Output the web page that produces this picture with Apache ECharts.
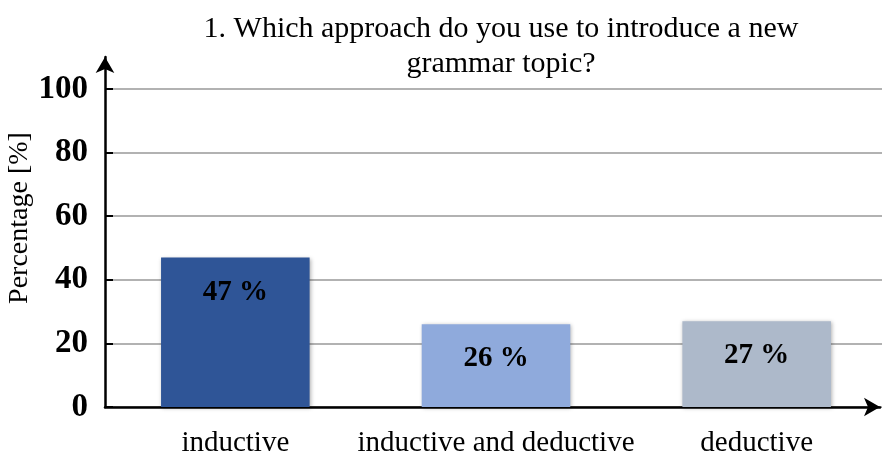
<!DOCTYPE html>
<html>
<head>
<meta charset="utf-8">
<script src="https://cdn.jsdelivr.net/npm/echarts@6/dist/echarts.min.js"></script>
<style>
  html, body { margin: 0; padding: 0; background: #fff; }
  #chart { width: 882px; height: 452px; }
</style>
</head>
<body>
<div id="chart"></div>
<script>
  // data
  var categories = ['inductive', 'inductive and deductive', 'deductive']
  var values = [47, 26, 27]
  var barColors = ['#2F5597', '#8FAADC', '#ADB9CA']

  var serif = '"Liberation Serif", "DejaVu Serif", serif'

  var arrowLine = {
    show: true,
    symbol: ['none', 'arrow'],
    symbolSize: [14, 16],
    lineStyle: { color: '#000', width: 2.5 }
  }

  var chart = echarts.init(document.getElementById('chart'))
  chart.setOption({
    animation: false,
    title: {
      text: '1. Which approach do you use to introduce a new\ngrammar topic?',
      left: 496,
      top: 7,
      textAlign: 'center',
      textStyle: {
        fontFamily: serif,
        fontWeight: 'normal',
        fontSize: 30,
        lineHeight: 35,
        color: '#000'
      }
    },
    grid: [
      // plot area, gridlines run off the right edge
      { left: 105, right: -5, top: 89, bottom: 45, outerBoundsMode: 'none' },
      // only used to draw both axis lines with their arrows
      { left: 105, right: 2, top: 57, bottom: 45, outerBoundsMode: 'none' }
    ],
    xAxis: [
      {
        type: 'category',
        data: categories,
        gridIndex: 0,
        axisLine: { show: false },
        axisTick: { show: false },
        axisLabel: {
          interval: 0,
          margin: 22,
          fontFamily: serif,
          fontSize: 29,
          color: '#000'
        }
      },
      {
        type: 'category',
        gridIndex: 1,
        data: categories,
        axisLine: arrowLine,
        axisTick: { show: false },
        axisLabel: { show: false }
      }
    ],
    yAxis: [
      {
        type: 'value',
        gridIndex: 0,
        min: 0,
        max: 100,
        interval: 20,
        name: 'Percentage [%]',
        nameLocation: 'middle',
        nameGap: 71,
        nameMoveOverlap: false,
        nameTextStyle: {
          fontFamily: serif,
          fontSize: 28,
          color: '#000',
          padding: [0, 0, 0, 60]
        },
        axisLine: { show: false },
        axisTick: {
          show: true,
          inside: true,
          length: 8,
          lineStyle: { color: '#000', width: 2 }
        },
        axisLabel: {
          margin: 17,
          fontFamily: serif,
          fontWeight: 'bold',
          fontSize: 33,
          color: '#000'
        },
        splitLine: {
          lineStyle: { color: '#999', width: 1.5 }
        }
      },
      {
        type: 'value',
        gridIndex: 1,
        min: 0,
        max: 1,
        axisLine: arrowLine,
        axisTick: { show: false },
        axisLabel: { show: false },
        splitLine: { show: false }
      }
    ],
    series: [
      {
        type: 'bar',
        xAxisIndex: 0,
        yAxisIndex: 0,
        barWidth: '57%',
        data: values.map(function (v, i) {
          return { value: v, itemStyle: { color: barColors[i] } }
        }),
        itemStyle: {
          shadowBlur: 4,
          shadowColor: 'rgba(0,0,0,0.3)',
          shadowOffsetX: 1,
          shadowOffsetY: 1
        },
        label: {
          show: true,
          position: 'insideTop',
          distance: 20,
          formatter: '{c} %',
          fontFamily: serif,
          fontWeight: 'bold',
          fontSize: 29,
          color: '#000'
        }
      }
    ]
  })
</script>
</body>
</html>
